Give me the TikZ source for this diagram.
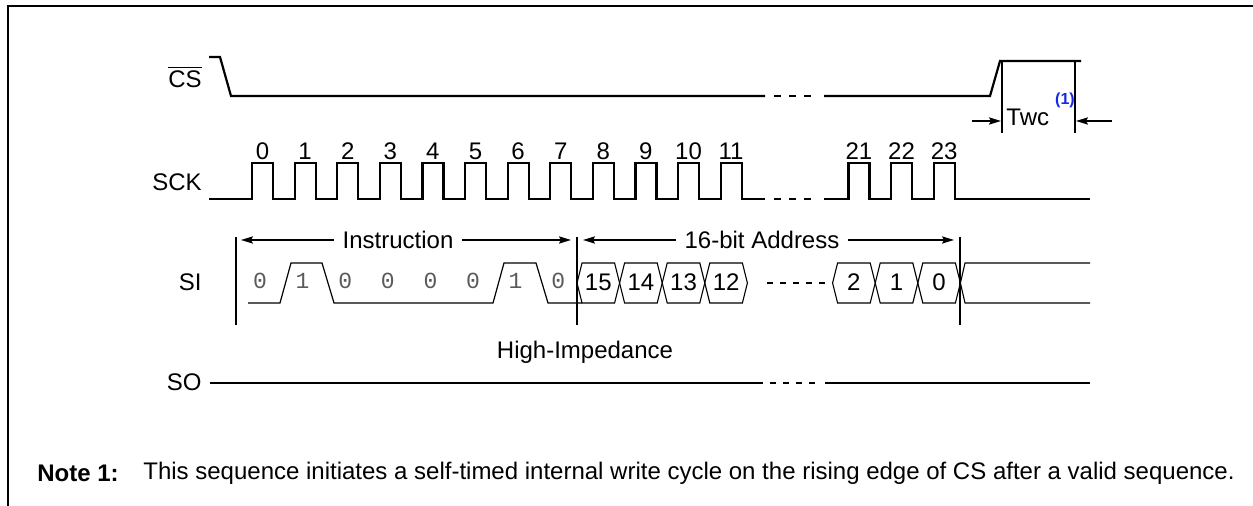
\documentclass[tikz,border=0pt]{standalone}
\usepackage{fontspec}
\setmainfont{Liberation Sans}
\newfontfamily\digitfont{Liberation Mono}
\usetikzlibrary{arrows.meta}
\definecolor{supblue}{RGB}{20,40,230}
\definecolor{bitgray}{RGB}{90,90,90}
\begin{document}
\begin{tikzpicture}[x=0.5pt,y=-0.5pt,
  txt/.style={font=\fontsize{12}{14}\selectfont, inner sep=0pt},
  sig/.style={txt, anchor=east},
  wave/.style={line width=1.1pt, line join=miter},
  thinwave/.style={line width=0.6pt},
  hexs/.style={line width=0.55pt},
  marker/.style={line width=1pt},
  dimarrow/.style={line width=0.8pt, -{Stealth[length=6pt,width=3.6pt,inset=1pt]}},
  bitdigit/.style={font=\digitfont\fontsize{11.5}{13}\selectfont, text=bitgray, inner sep=0pt},
  frame/.style={line width=1.2pt}]
\useasboundingbox (0,0) rectangle (1253,506);
% frame
\draw[frame] (8,506) -- (8,6) -- (1253,6);

% signal names
\node[sig] (lcs)  at (202,77)  {$\overline{\hbox{CS}}$};
\node[sig] (lsck) at (202,182) {SCK};
\node[sig] (lsi)  at (202,282) {SI};
\node[sig] (lso)  at (202,382) {SO};

% CS
\draw[wave] (209,57) -- (220,57) -- (231,96) -- (765,96);
\foreach \s in {774,789,804} \draw[wave] (\s,96) -- ({\s+7},96);
\draw[wave] (824,96) -- (990,96) -- (1000,61) -- (1081,61);

% Twc
\coordinate (twl) at (1002,61);
\coordinate (twr) at (1075,61);
\draw[marker] (twl) -- (1002,133);
\draw[marker] (twr) -- (1075,133);
\coordinate (arl) at (972,121);
\coordinate (arr) at (1112,121);
\draw[dimarrow] (arl) -- (1001,121);
\draw[dimarrow] (arr) -- (1076,121);
\node[txt, anchor=west] (twc) at (1006,117) {Twc};
\node[font=\bfseries\fontsize{8}{9}\selectfont, text=supblue, inner sep=0pt] (twcsup) at (1065,100) {(1)};

% SCK
\draw[wave] (209,199)
  \foreach \p in {0,...,11} { -- ({252+42.6*\p},199) -- ({252+42.6*\p},163) -- ({273+42.6*\p},163) -- ({273+42.6*\p},199) }
  -- (765,199);
\foreach \s in {774,789,804} \draw[wave] (\s,199) -- ({\s+7},199);
\draw[wave] (824,199)
  \foreach \p in {14,15,16} { -- ({252+42.6*\p},199) -- ({252+42.6*\p},163) -- ({273+42.6*\p},163) -- ({273+42.6*\p},199) }
  -- (1090,199);
\foreach \p/\l in {0/0,1/1,2/2,3/3,4/4,5/5,6/6,7/7,8/8,9/9,10/10,11/11,14/21,15/22,16/23}
  \node[txt] (clk\l) at ({262.5+42.6*\p},151) {\l};

% SI section markers
\draw[marker] (236,237) -- (236,325);
\draw[marker] (577,237) -- (577,325);
\draw[marker] (960,237) -- (960,325);
\node[txt, fill=white, inner xsep=4pt] (instr) at (398,240) {Instruction};
\node[txt, fill=white, inner xsep=4pt] (addr) at (762,240) {16-bit Address};
\draw[dimarrow] (instr.west) -- (241,240);
\draw[dimarrow] (instr.east) -- (571,240);
\draw[dimarrow] (addr.west) -- (583,240);
\draw[dimarrow] (addr.east) -- (954,240);

% SI instruction bits
\draw[thinwave] (248,303) -- (280,303) -- (291,263) -- (322,263) -- (334,303)
  -- (493,303) -- (504,263) -- (536,263) -- (548,303) -- (582,303);
\foreach \k/\b in {0/0,1/1,2/0,3/0,4/0,5/0,6/1,7/0}
  \node[bitdigit] (bit\k) at ({260+42.6*\k},281) {\b};

% address hexagons
\foreach \k/\l in {0/15,1/14,2/13,3/12,6/2,7/1,8/0} {
  \draw[hexs] ({577+42.6*\k},283) -- ({582+42.6*\k},263) -- ({577+42.6*(\k+1)-5},263)
    -- ({577+42.6*(\k+1)},283) -- ({577+42.6*(\k+1)-5},303) -- ({582+42.6*\k},303) -- cycle;
  \node[txt] (hx\l) at ({577+42.6*\k+21.3},282) {\l};
}
\foreach \s in {767,780,793,806,819} \draw[hexs] (\s,283) -- ({\s+6},283);
\draw[hexs] (1090,263) -- (965,263) -- (960.4,283) -- (965,303) -- (1090,303);

% SO
\node[txt] (hiz) at (585,352) {High-Impedance};
\draw[wave] (210,383) -- (763,383);
\foreach \s in {770,783,796,809} \draw[wave] (\s,383) -- ({\s+6},383);
\draw[wave] (825,383) -- (1090,383);

% note
\node[txt, anchor=west, font=\bfseries\fontsize{12}{14}\selectfont] (note) at (37,473) {Note 1:};
\node[txt, anchor=west] (notetext) at (143,473) {This sequence initiates a self-timed internal write cycle on the rising edge of CS after a valid sequence.};
\end{tikzpicture}
\end{document}
